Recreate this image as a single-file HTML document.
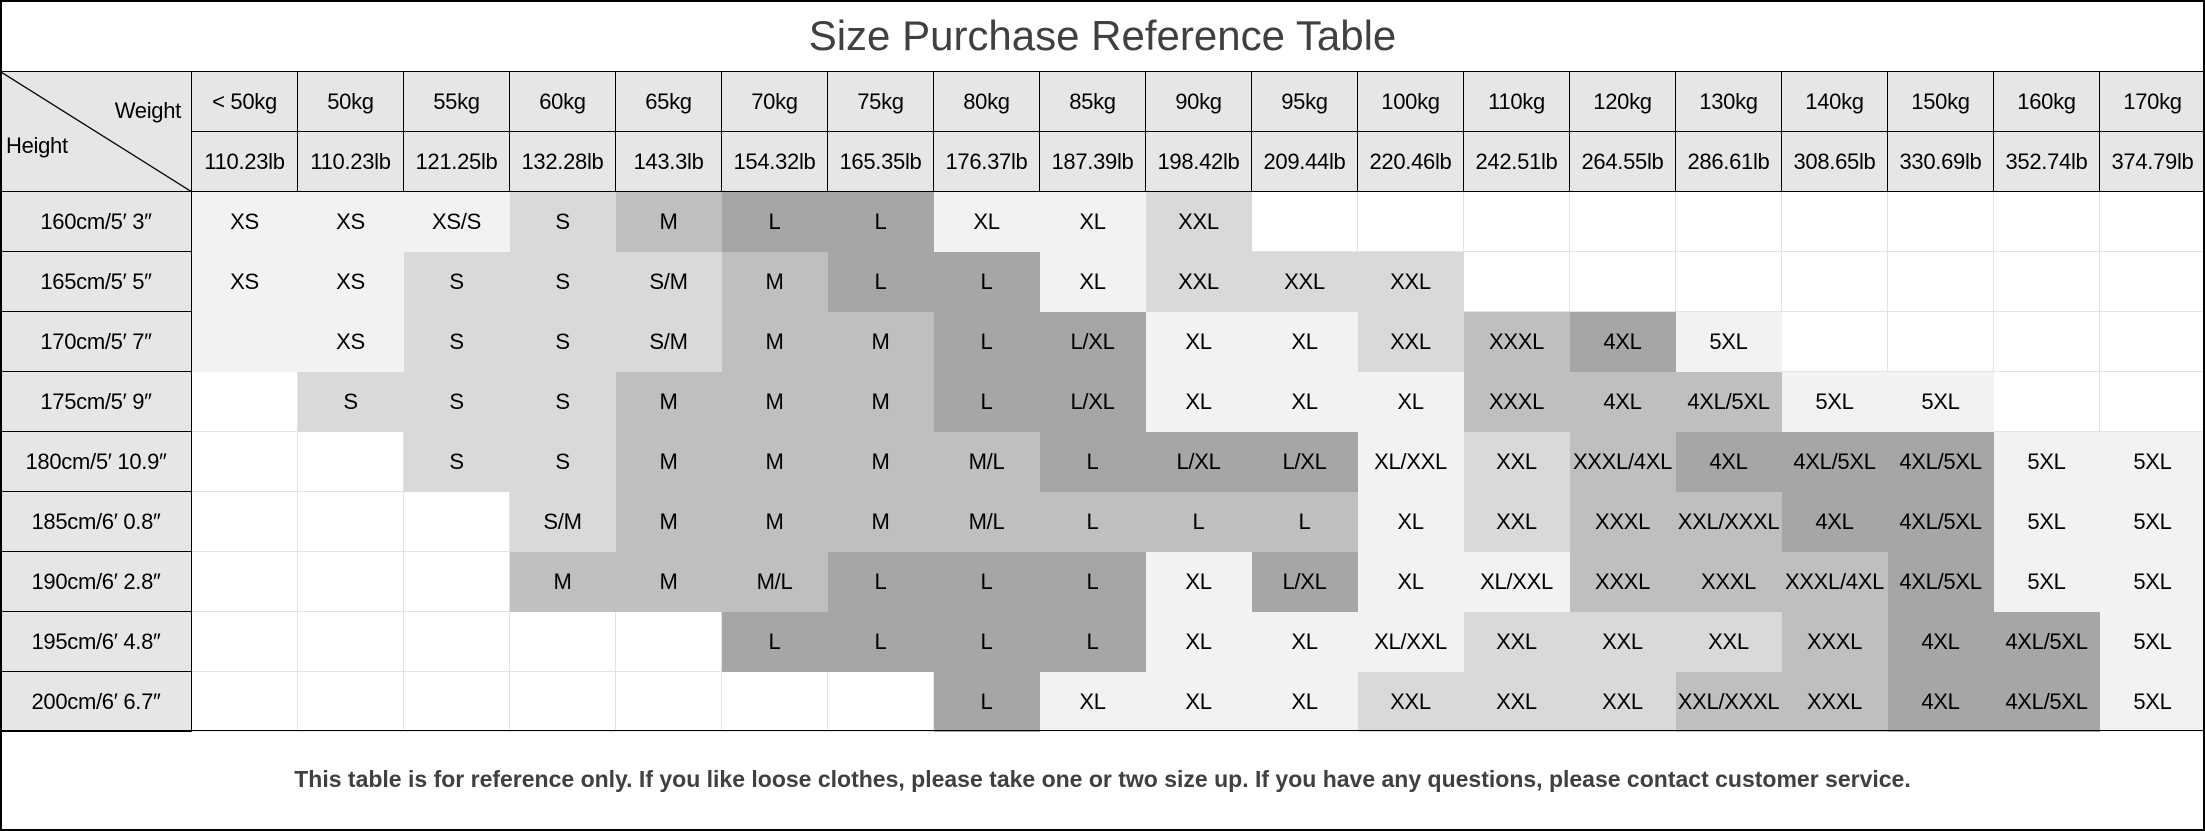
<!DOCTYPE html>
<html><head><meta charset="utf-8"><style>
*{margin:0;padding:0;box-sizing:border-box}
body{width:2205px;height:831px;background:#fff;position:relative;overflow:hidden;font-family:"Liberation Sans","DejaVu Sans",sans-serif;color:#000}
#frame{position:absolute;left:0;top:0;width:2205px;height:831px;border:2px solid #000}
#title{position:absolute;left:0;top:0;width:2205px;height:71px;line-height:71px;text-align:center;font-size:42px;color:#404040}
table{position:absolute;left:0;top:71px;border-collapse:collapse;table-layout:fixed;width:2205px}
td{text-align:center;font-size:22px;height:60px;padding:0;white-space:nowrap;overflow:hidden;letter-spacing:-0.3px}
.h{background:#e7e6e6;border:1.5px solid #000}
.c0{background:#fff;border:1px solid #e3e3e3}
.c1{background:#f2f2f2;border:1px solid #f2f2f2}
.c2{background:#d9d9d9;border:1px solid #d9d9d9}
.c3{background:#bfbfbf;border:1px solid #bfbfbf}
.c4{background:#a6a6a6;border:1px solid #a6a6a6}
#foot{position:absolute;left:0;top:730px;width:2205px;height:100px;border-top:1.5px solid #000;line-height:96px;text-align:center;font-size:23px;font-weight:bold;color:#404040}
</style></head><body>
<div id="title">Size Purchase Reference Table</div>
<table>
<colgroup><col style="width:191px"><col span="19" style="width:106px"></colgroup>
<tr><td class="h" rowspan="2" style="position:relative;height:120px"><svg width="191" height="120" style="position:absolute;left:0;top:0"><line x1="0" y1="0" x2="191" y2="120" stroke="#000" stroke-width="1.3"/></svg><span style="position:absolute;right:10px;top:26px">Weight</span><span style="position:absolute;left:5px;top:61px">Height</span></td>
<td class="h">&lt; 50kg</td><td class="h">50kg</td><td class="h">55kg</td><td class="h">60kg</td><td class="h">65kg</td><td class="h">70kg</td><td class="h">75kg</td><td class="h">80kg</td><td class="h">85kg</td><td class="h">90kg</td><td class="h">95kg</td><td class="h">100kg</td><td class="h">110kg</td><td class="h">120kg</td><td class="h">130kg</td><td class="h">140kg</td><td class="h">150kg</td><td class="h">160kg</td><td class="h">170kg</td></tr>
<tr><td class="h">110.23lb</td><td class="h">110.23lb</td><td class="h">121.25lb</td><td class="h">132.28lb</td><td class="h">143.3lb</td><td class="h">154.32lb</td><td class="h">165.35lb</td><td class="h">176.37lb</td><td class="h">187.39lb</td><td class="h">198.42lb</td><td class="h">209.44lb</td><td class="h">220.46lb</td><td class="h">242.51lb</td><td class="h">264.55lb</td><td class="h">286.61lb</td><td class="h">308.65lb</td><td class="h">330.69lb</td><td class="h">352.74lb</td><td class="h">374.79lb</td></tr>
<tr><td class="h">160cm/5′ 3″</td><td class="c1">XS</td><td class="c1">XS</td><td class="c1">XS/S</td><td class="c2">S</td><td class="c3">M</td><td class="c4">L</td><td class="c4">L</td><td class="c1">XL</td><td class="c1">XL</td><td class="c2">XXL</td><td class="c0"></td><td class="c0"></td><td class="c0"></td><td class="c0"></td><td class="c0"></td><td class="c0"></td><td class="c0"></td><td class="c0"></td><td class="c0"></td></tr>
<tr><td class="h">165cm/5′ 5″</td><td class="c1">XS</td><td class="c1">XS</td><td class="c2">S</td><td class="c2">S</td><td class="c2">S/M</td><td class="c3">M</td><td class="c4">L</td><td class="c4">L</td><td class="c1">XL</td><td class="c2">XXL</td><td class="c2">XXL</td><td class="c2">XXL</td><td class="c0"></td><td class="c0"></td><td class="c0"></td><td class="c0"></td><td class="c0"></td><td class="c0"></td><td class="c0"></td></tr>
<tr><td class="h">170cm/5′ 7″</td><td class="c1"></td><td class="c1">XS</td><td class="c2">S</td><td class="c2">S</td><td class="c2">S/M</td><td class="c3">M</td><td class="c3">M</td><td class="c4">L</td><td class="c4">L/XL</td><td class="c1">XL</td><td class="c1">XL</td><td class="c2">XXL</td><td class="c3">XXXL</td><td class="c4">4XL</td><td class="c1">5XL</td><td class="c0"></td><td class="c0"></td><td class="c0"></td><td class="c0"></td></tr>
<tr><td class="h">175cm/5′ 9″</td><td class="c0"></td><td class="c2">S</td><td class="c2">S</td><td class="c2">S</td><td class="c3">M</td><td class="c3">M</td><td class="c3">M</td><td class="c4">L</td><td class="c4">L/XL</td><td class="c1">XL</td><td class="c1">XL</td><td class="c1">XL</td><td class="c3">XXXL</td><td class="c3">4XL</td><td class="c3">4XL/5XL</td><td class="c1">5XL</td><td class="c1">5XL</td><td class="c0"></td><td class="c0"></td></tr>
<tr><td class="h">180cm/5′ 10.9″</td><td class="c0"></td><td class="c0"></td><td class="c2">S</td><td class="c2">S</td><td class="c3">M</td><td class="c3">M</td><td class="c3">M</td><td class="c3">M/L</td><td class="c4">L</td><td class="c4">L/XL</td><td class="c4">L/XL</td><td class="c1">XL/XXL</td><td class="c2">XXL</td><td class="c3">XXXL/4XL</td><td class="c4">4XL</td><td class="c4">4XL/5XL</td><td class="c4">4XL/5XL</td><td class="c1">5XL</td><td class="c1">5XL</td></tr>
<tr><td class="h">185cm/6′ 0.8″</td><td class="c0"></td><td class="c0"></td><td class="c0"></td><td class="c2">S/M</td><td class="c3">M</td><td class="c3">M</td><td class="c3">M</td><td class="c3">M/L</td><td class="c3">L</td><td class="c3">L</td><td class="c3">L</td><td class="c1">XL</td><td class="c2">XXL</td><td class="c3">XXXL</td><td class="c3">XXL/XXXL</td><td class="c4">4XL</td><td class="c4">4XL/5XL</td><td class="c1">5XL</td><td class="c1">5XL</td></tr>
<tr><td class="h">190cm/6′ 2.8″</td><td class="c0"></td><td class="c0"></td><td class="c0"></td><td class="c3">M</td><td class="c3">M</td><td class="c3">M/L</td><td class="c4">L</td><td class="c4">L</td><td class="c4">L</td><td class="c1">XL</td><td class="c4">L/XL</td><td class="c1">XL</td><td class="c1">XL/XXL</td><td class="c3">XXXL</td><td class="c3">XXXL</td><td class="c3">XXXL/4XL</td><td class="c4">4XL/5XL</td><td class="c1">5XL</td><td class="c1">5XL</td></tr>
<tr><td class="h">195cm/6′ 4.8″</td><td class="c0"></td><td class="c0"></td><td class="c0"></td><td class="c0"></td><td class="c0"></td><td class="c4">L</td><td class="c4">L</td><td class="c4">L</td><td class="c4">L</td><td class="c1">XL</td><td class="c1">XL</td><td class="c1">XL/XXL</td><td class="c2">XXL</td><td class="c2">XXL</td><td class="c2">XXL</td><td class="c3">XXXL</td><td class="c4">4XL</td><td class="c4">4XL/5XL</td><td class="c1">5XL</td></tr>
<tr><td class="h">200cm/6′ 6.7″</td><td class="c0"></td><td class="c0"></td><td class="c0"></td><td class="c0"></td><td class="c0"></td><td class="c0"></td><td class="c0"></td><td class="c4">L</td><td class="c1">XL</td><td class="c1">XL</td><td class="c1">XL</td><td class="c2">XXL</td><td class="c2">XXL</td><td class="c2">XXL</td><td class="c3">XXL/XXXL</td><td class="c3">XXXL</td><td class="c4">4XL</td><td class="c4">4XL/5XL</td><td class="c1">5XL</td></tr>
</table>
<div id="foot">This table is for reference only. If you like loose clothes, please take one or two size up. If you have any questions, please contact customer service.</div>
<div id="frame"></div>
</body></html>
